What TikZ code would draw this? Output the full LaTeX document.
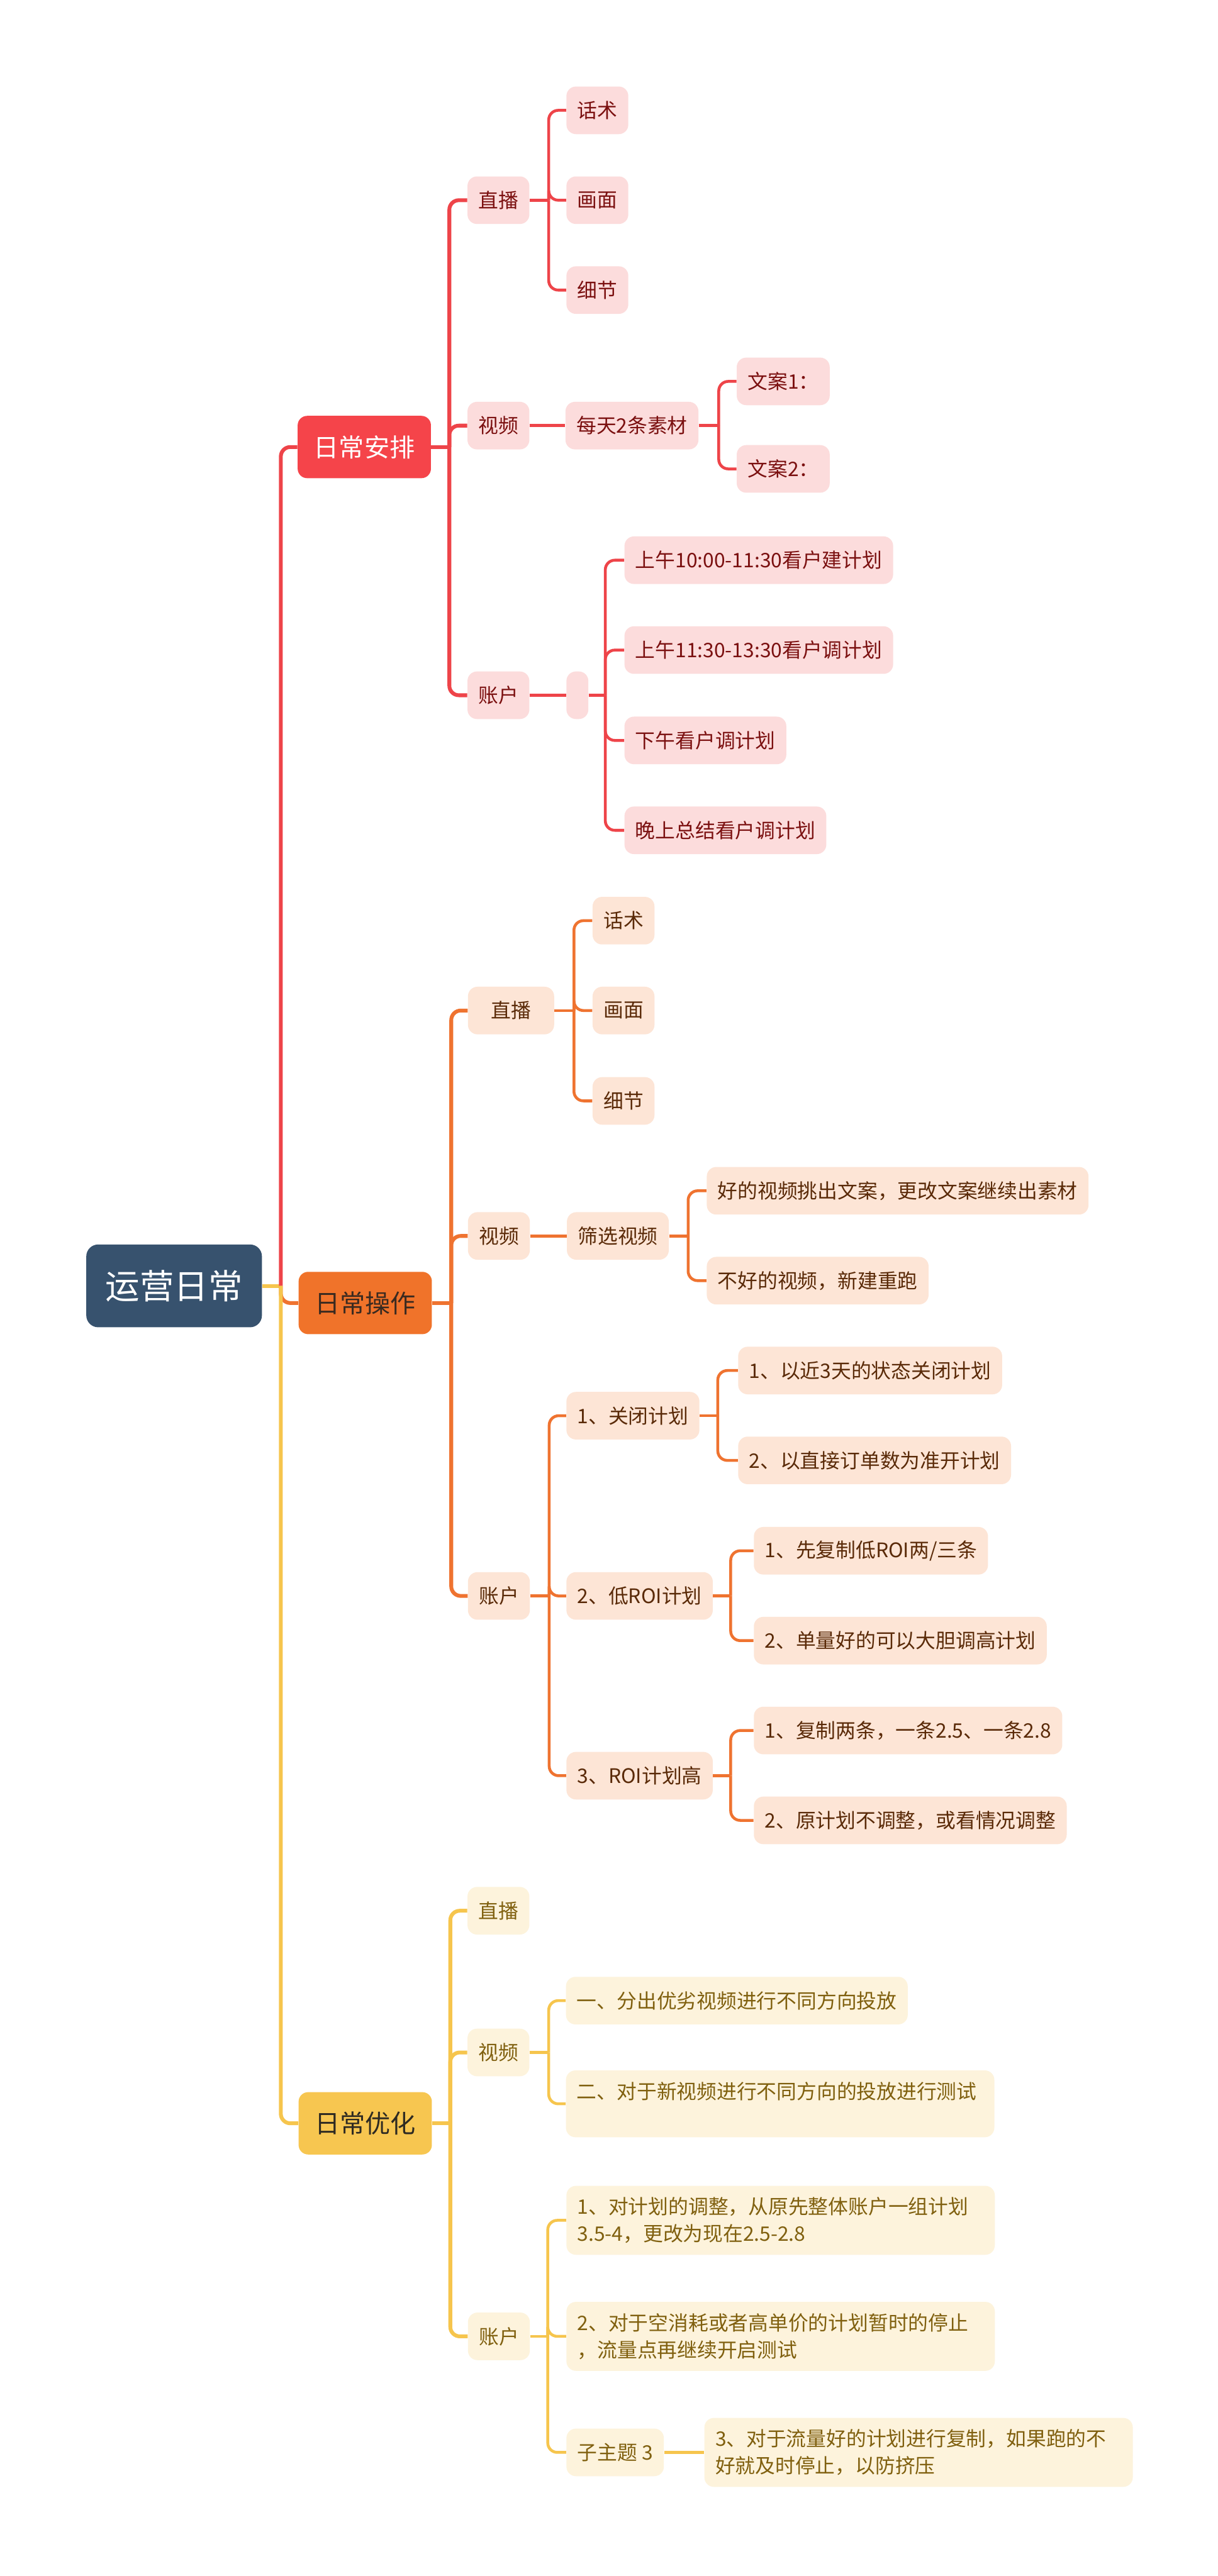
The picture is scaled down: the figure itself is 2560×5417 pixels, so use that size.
\documentclass[tikz,border=0pt]{standalone}
\usepackage{fontspec}
\setmainfont{Noto Sans CJK SC}
\usepackage{tikz}
\usetikzlibrary{positioning}
\definecolor{cRoot}{HTML}{37526E}
\definecolor{cRedA}{HTML}{F5444A}
\definecolor{cRedL}{HTML}{EE4449}
\definecolor{cRedF}{HTML}{FCDCDC}
\definecolor{cRedT}{HTML}{7B1010}
\definecolor{cOrgA}{HTML}{F0732A}
\definecolor{cOrgL}{HTML}{EF7330}
\definecolor{cOrgF}{HTML}{FDE5D6}
\definecolor{cOrgT}{HTML}{5A2A08}
\definecolor{cOrgMT}{HTML}{3A2A20}
\definecolor{cYelA}{HTML}{F7C650}
\definecolor{cYelL}{HTML}{F6C54D}
\definecolor{cYelF}{HTML}{FDF3DC}
\definecolor{cYelT}{HTML}{80600F}
\definecolor{cYelMT}{HTML}{2E2A22}
\tikzset{
  rootbox/.style={fill=cRoot, text=white, rounded corners=0.25cm, minimum width=3.69cm, minimum height=1.74cm, font=\fontsize{20.5pt}{24pt}\selectfont},
  mainbox/.style={rounded corners=0.2cm, anchor=west, minimum width=2.8cm, minimum height=1.31cm, inner xsep=0.3cm, font=\fontsize{15.1pt}{18pt}\selectfont},
  redmain/.style={mainbox, fill=cRedA, text=white},
  orgmain/.style={mainbox, fill=cOrgA, text=cOrgMT},
  yelmain/.style={mainbox, fill=cYelA, text=cYelMT},
  subbox/.style={rounded corners=0.2cm, anchor=west, minimum height=1cm, inner xsep=0.23cm, inner ysep=0.24cm, font=\fontsize{11.95pt}{16.2pt}\selectfont},
  redsub/.style={subbox, fill=cRedF, text=cRedT},
  orgsub/.style={subbox, fill=cOrgF, text=cOrgT},
  yelsub/.style={subbox, fill=cYelF, text=cYelT},
  longbox/.style={text width=8.54cm, align=left},
  redtrunk/.style={draw=cRedL, line width=0.08cm, rounded corners=0.2cm},
  orgtrunk/.style={draw=cOrgL, line width=0.08cm, rounded corners=0.2cm},
  yeltrunk/.style={draw=cYelL, line width=0.08cm, rounded corners=0.2cm},
  redlink/.style={draw=cRedL, line width=0.06cm, rounded corners=0.2cm},
  orglink/.style={draw=cOrgL, line width=0.06cm, rounded corners=0.2cm},
  yellink/.style={draw=cYelL, line width=0.06cm, rounded corners=0.2cm}
}
\begin{document}
\begin{tikzpicture}[x=0.01cm, y=-0.01cm]
  \useasboundingbox[fill=white] (0,0) rectangle (2560,5417);
  \node[rootbox] (rt) at (366,2704) {运营日常};
  \node[redmain] (ap) at (625,940) {日常安排};
  \node[orgmain] (cz) at (627,2740) {日常操作};
  \node[yelmain] (yh) at (627,4465) {日常优化};

  \node[redsub] (apzb) at (982,421) {直播};
  \node[redsub] (aphs) at (1190,232) {话术};
  \node[redsub] (aphm) at (1190,421) {画面};
  \node[redsub] (apxj) at (1190,610) {细节};
  \node[redsub] (apsp) at (982,895) {视频};
  \node[redsub] (apmt) at (1188,895) {每天2条素材};
  \node[redsub] (apwa1) at (1548,802) {文案1：};
  \node[redsub] (apwa2) at (1548,986) {文案2：};
  \node[redsub] (apzh) at (982,1462) {账户};
  \node[redsub] (apkb) at (1190,1462) {};
  \node[redsub] (apsw1) at (1312,1178) {上午10:00-11:30看户建计划};
  \node[redsub] (apsw2) at (1312,1367) {上午11:30-13:30看户调计划};
  \node[redsub] (apxw) at (1312,1557) {下午看户调计划};
  \node[redsub] (apws) at (1312,1746) {晚上总结看户调计划};

  \node[orgsub, minimum width=1.81cm] (czzb) at (983,2125) {直播};
  \node[orgsub] (czhs) at (1245,1936) {话术};
  \node[orgsub] (czhm) at (1245,2125) {画面};
  \node[orgsub] (czxj) at (1245,2315) {细节};
  \node[orgsub] (czsp) at (983,2599) {视频};
  \node[orgsub] (czsx) at (1191,2599) {筛选视频};
  \node[orgsub] (czhao) at (1485,2504) {好的视频挑出文案，更改文案继续出素材};
  \node[orgsub] (czbh) at (1485,2693) {不好的视频，新建重跑};
  \node[orgsub] (czzh) at (983,3356) {账户};
  \node[orgsub] (czgb) at (1190,2977) {1、关闭计划};
  \node[orgsub] (czgb1) at (1551,2882) {1、以近3天的状态关闭计划};
  \node[orgsub] (czgb2) at (1551,3071) {2、以直接订单数为准开计划};
  \node[orgsub] (czdr) at (1190,3356) {2、低ROI计划};
  \node[orgsub] (czdr1) at (1584,3261) {1、先复制低ROI两/三条};
  \node[orgsub] (czdr2) at (1584,3450) {2、单量好的可以大胆调高计划};
  \node[orgsub] (czrg) at (1190,3734) {3、ROI计划高};
  \node[orgsub] (czrg1) at (1584,3639) {1、复制两条，一条2.5、一条2.8};
  \node[orgsub] (czrg2) at (1584,3828) {2、原计划不调整，或看情况调整};

  \node[yelsub] (yhzb) at (982,4018) {直播};
  \node[yelsub] (yhsp) at (982,4316) {视频};
  \node[yelsub] (yhsp1) at (1189,4207) {一、分出优劣视频进行不同方向投放};
  \node[yelsub, longbox] (yhsp2) at (1189,4424) {二、对于新视频进行不同方向的投放进行测试\\\phantom{二}};
  \node[yelsub] (yhzh) at (983,4913) {账户};
  \node[yelsub, longbox] (yhzh1) at (1190,4669) {1、对计划的调整，从原先整体账户一组计划\\3.5-4，更改为现在2.5-2.8};
  \node[yelsub, longbox] (yhzh2) at (1190,4913) {2、对于空消耗或者高单价的计划暂时的停止\\，流量点再继续开启测试};
  \node[yelsub] (yhzz) at (1190,5157) {子主题 3};
  \node[yelsub, longbox] (yhzz1) at (1480,5157) {3、对于流量好的计划进行复制，如果跑的不\\好就及时停止，以防挤压};

  \draw[yeltrunk] (rt.east) -- ++(39,0) coordinate (rtj);
  \draw[redtrunk] (rtj) |- (ap.west);
  \draw[orgtrunk] (rtj) |- (cz.west);
  \draw[yeltrunk] (rtj) |- (yh.west);

  \draw[redtrunk] (ap.east) -- ++(38,0) coordinate (apj);
  \draw[redtrunk] (apj) |- (apzb.west);
  \draw[redtrunk] (apj) |- (apsp.west);
  \draw[redtrunk] (apj) |- (apzh.west);
  \draw[redlink] (apzb.east) -- ++(40,0) coordinate (apzbj);
  \draw[redlink] (apzbj) |- (aphs.west);
  \draw[redlink] (apzbj) |- (aphm.west);
  \draw[redlink] (apzbj) |- (apxj.west);
  \draw[redlink] (apsp.east) -- (apmt.west);
  \draw[redlink] (apmt.east) -- ++(42,0) coordinate (apmtj);
  \draw[redlink] (apmtj) |- (apwa1.west);
  \draw[redlink] (apmtj) |- (apwa2.west);
  \draw[redlink] (apzh.east) -- (apkb.west);
  \draw[redlink] (apkb.east) -- ++(35,0) coordinate (apkbj);
  \draw[redlink] (apkbj) |- (apsw1.west);
  \draw[redlink] (apkbj) |- (apsw2.west);
  \draw[redlink] (apkbj) |- (apxw.west);
  \draw[redlink] (apkbj) |- (apws.west);

  \draw[orgtrunk] (cz.east) -- ++(40,0) coordinate (czj);
  \draw[orgtrunk] (czj) |- (czzb.west);
  \draw[orgtrunk] (czj) |- (czsp.west);
  \draw[orgtrunk] (czj) |- (czzh.west);
  \draw[orglink] (czzb.east) -- ++(41,0) coordinate (czzbj);
  \draw[orglink] (czzbj) |- (czhs.west);
  \draw[orglink] (czzbj) |- (czhm.west);
  \draw[orglink] (czzbj) |- (czxj.west);
  \draw[orglink] (czsp.east) -- (czsx.west);
  \draw[orglink] (czsx.east) -- ++(40,0) coordinate (czsxj);
  \draw[orglink] (czsxj) |- (czhao.west);
  \draw[orglink] (czsxj) |- (czbh.west);
  \draw[orglink] (czzh.east) -- ++(40,0) coordinate (czzhj);
  \draw[orglink] (czzhj) |- (czgb.west);
  \draw[orglink] (czzhj) |- (czdr.west);
  \draw[orglink] (czzhj) |- (czrg.west);
  \draw[orglink] (czgb.east) -- ++(38,0) coordinate (czgbj);
  \draw[orglink] (czgbj) |- (czgb1.west);
  \draw[orglink] (czgbj) |- (czgb2.west);
  \draw[orglink] (czdr.east) -- ++(37,0) coordinate (czdrj);
  \draw[orglink] (czdrj) |- (czdr1.west);
  \draw[orglink] (czdrj) |- (czdr2.west);
  \draw[orglink] (czrg.east) -- ++(37,0) coordinate (czrgj);
  \draw[orglink] (czrgj) |- (czrg1.west);
  \draw[orglink] (czrgj) |- (czrg2.west);

  \draw[yeltrunk] (yh.east) -- ++(38,0) coordinate (yhj);
  \draw[yeltrunk] (yhj) |- (yhzb.west);
  \draw[yeltrunk] (yhj) |- (yhsp.west);
  \draw[yeltrunk] (yhj) |- (yhzh.west);
  \draw[yellink] (yhsp.east) -- ++(40,0) coordinate (yhspj);
  \draw[yellink] (yhspj) |- (yhsp1.west);
  \draw[yellink] (yhspj) |- (yhsp2.west);
  \draw[yellink] (yhzh.east) -- ++(37,0) coordinate (yhzhj);
  \draw[yellink] (yhzhj) |- (yhzh1.west);
  \draw[yellink] (yhzhj) |- (yhzh2.west);
  \draw[yellink] (yhzhj) |- (yhzz.west);
  \draw[yellink] (yhzz.east) -- (yhzz1.west);
\end{tikzpicture}
\end{document}
